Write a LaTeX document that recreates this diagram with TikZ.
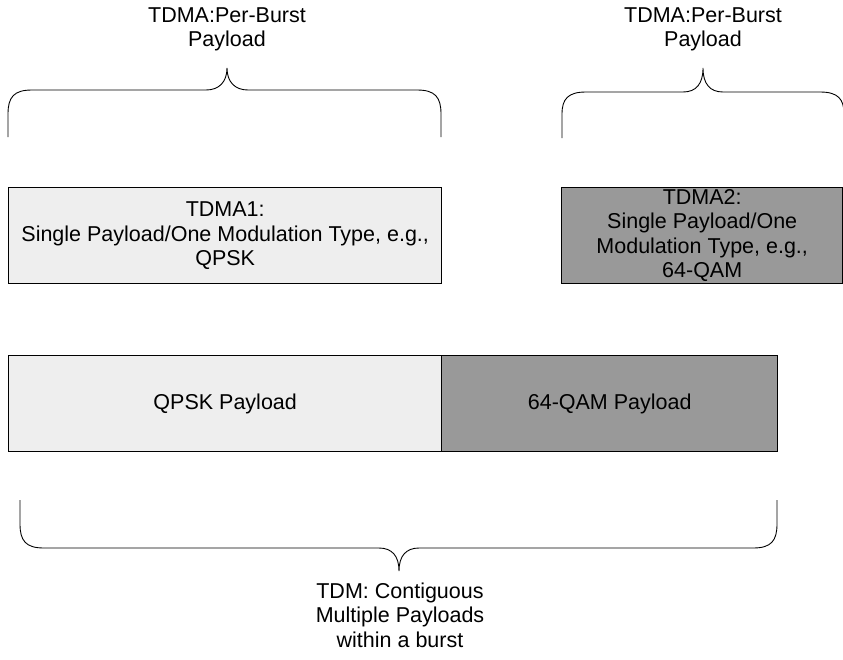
\documentclass[tikz,border=0pt]{standalone}
\usepackage{fontspec}
\setmainfont{Liberation Sans}
\definecolor{lightfill}{HTML}{EEEEEE}
\definecolor{darkfill}{HTML}{999999}
\begin{document}
\begin{tikzpicture}[x=1pt,y=-1pt,
  lbl/.style={font=\fontsize{21.5}{24.5}\selectfont, align=center, inner sep=0pt},
  cell/.style={draw=black, line width=1.4pt, minimum height=96pt, inner sep=0pt, anchor=north west},
  brace/.style={draw=black, line width=0.9pt}]
\clip (0,0) rectangle (843,659);

% braces over the two single bursts
\draw[brace] (8,137) -- (8,114) .. controls (8,97) and (14,90) .. (32,90)
  -- (206,90) .. controls (219,90) and (227,82) .. (227,68)
  .. controls (227,82) and (235,90) .. (248,90)
  -- (417,90) .. controls (435,90) and (441,97) .. (441,114) -- (441,137);
\draw[brace] (562,138) -- (562,114) .. controls (562,99) and (568,92) .. (586,92)
  -- (683,92) .. controls (696,92) and (703,84) .. (703,68)
  .. controls (703,84) and (710,92) .. (723,92)
  -- (820,92) .. controls (838,92) and (844,99) .. (844,114) -- (844,138);

\node[lbl] (tl) at (227,29.5) {TDMA:Per-Burst\\Payload};
\node[lbl] (tr) at (703,29.5) {TDMA:Per-Burst\\Payload};

% single-payload bursts
\node[cell, fill=lightfill, minimum width=433pt] (t1) at (8,187) {};
\node[lbl] (t1txt) at (t1.center) {TDMA1:\\Single Payload/One Modulation Type, e.g.,\\QPSK};
\node[cell, fill=darkfill, minimum width=281pt] (t2) at (561,187) {};
\node[lbl] (t2txt) at (t2.center) {TDMA2:\\Single Payload/One\\Modulation Type, e.g.,\\64-QAM};

% contiguous TDM burst
\node[cell, fill=lightfill, minimum width=433pt] (q) at (8,355) {};
\node[cell, fill=darkfill, minimum width=336pt] (m) at (441,355) {};
\node[lbl] (qtxt) at (q.center) {QPSK Payload};
\node[lbl] (mtxt) at (m.center) {64-QAM Payload};

% brace under the TDM burst
\draw[brace] (20,500) -- (20,524) .. controls (20,541) and (26,548) .. (44,548)
  -- (379,548) .. controls (392,548) and (399,556) .. (399,571)
  .. controls (399,556) and (406,548) .. (419,548)
  -- (753,548) .. controls (771,548) and (777,541) .. (777,524) -- (777,500);

\node[lbl] (bt) at (400,615) {TDM: Contiguous\\Multiple Payloads\\within a burst};
\end{tikzpicture}
\end{document}
